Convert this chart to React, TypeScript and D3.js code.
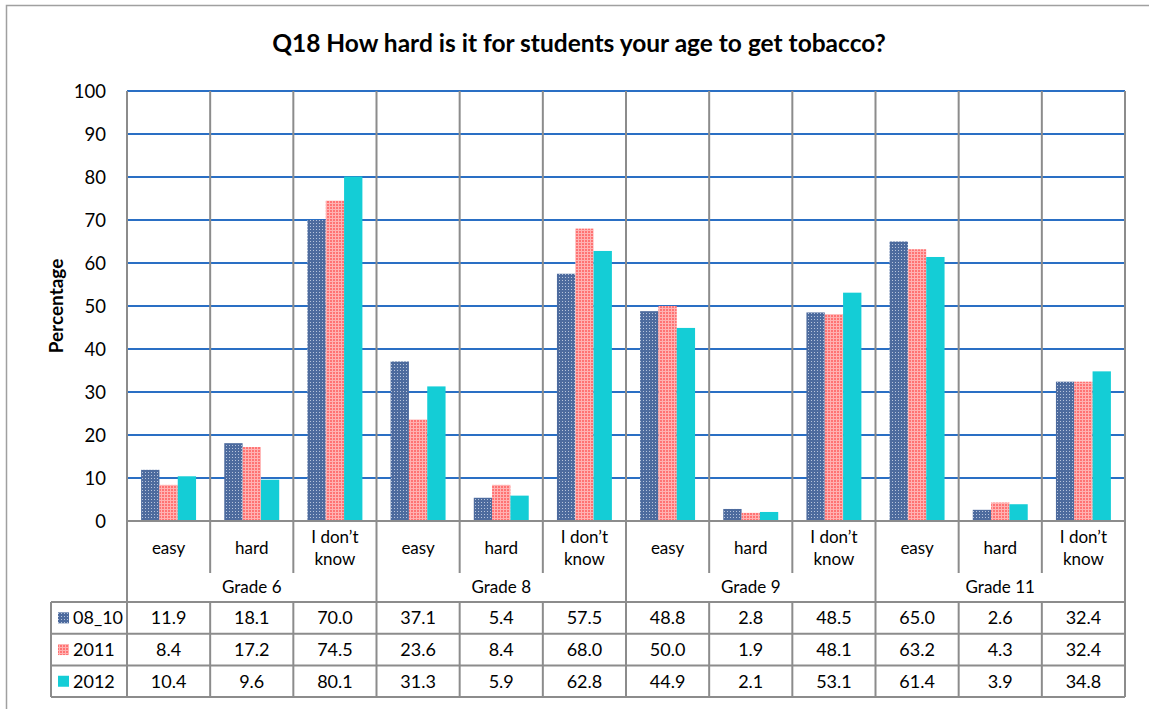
import React from "react";
import * as d3 from "d3";

const groups = ["Grade 6", "Grade 8", "Grade 9", "Grade 11"];
const answers = ["easy", "hard", "I don\u2019t know"];
const seriesNames = ["08_10", "2011", "2012"];
const s0810 = [11.9, 18.1, 70.0, 37.1, 5.4, 57.5, 48.8, 2.8, 48.5, 65.0, 2.6, 32.4];
const s2011 = [8.4, 17.2, 74.5, 23.6, 8.4, 68.0, 50.0, 1.9, 48.1, 63.2, 4.3, 32.4];
const s2012 = [10.4, 9.6, 80.1, 31.3, 5.9, 62.8, 44.9, 2.1, 53.1, 61.4, 3.9, 34.8];
const yTicks = [0, 10, 20, 30, 40, 50, 60, 70, 80, 90, 100];
const title = "Q18 How hard is it for students your age to get tobacco?";

const FONT = "Lato, 'Open Sans', sans-serif";
const GRAY = "#8c8c8c";

export default function App() {
  const W = 1149, H = 709;
  const left = 127, right = 1125, top = 91, bottom = 521;
  const catRowBottom = 573, tableTop = 602, rowH = 31.7;
  const tableLeft = 51;
  const series = [s0810, s2011, s2012];
  const cats = groups.flatMap((g) => answers.map((a) => g + "|" + a));
  const x = d3.scaleBand<string>().domain(cats).range([left, right]).padding(0);
  const xi = d3.scaleBand<number>().domain([0, 1, 2]).range([0, x.bandwidth()]).paddingInner(0).paddingOuter(0.77);
  const y = d3.scaleLinear().domain([0, 100]).range([bottom, top]);
  const fills = ["url(#pBlue)", "url(#pPink)", "#14cdd6"];
  const tableBottom = tableTop + rowH * 3;
  const gw = x.bandwidth() * 3;

  return (
    <svg width={W} height={H} style={{ position: "absolute", left: 0, top: 0, background: "#fff" }} fontFamily={FONT}>
      <defs>
        <pattern id="pBlue" width="3" height="3" patternUnits="userSpaceOnUse">
          <rect width="3" height="3" fill="#4d6b9e" />
          <rect x="1" y="1" width="1" height="1" fill="#b7c4dc" />
        </pattern>
        <pattern id="pPink" width="3" height="3" patternUnits="userSpaceOnUse">
          <rect width="3" height="3" fill="#ffb2b2" />
          <rect x="0" y="0" width="2" height="2" fill="#ff7373" />
        </pattern>
      </defs>
      <rect x={0} y={0} width={W} height={H} fill="#fff" />
      <path d={`M6.5,${H} V5.5 H${W}`} fill="none" stroke="#a0a0a0" strokeWidth={1.5} />
      <text x={579} y={52} textAnchor="middle" fontSize={24.5} fontWeight="bold" fill="#000">{title}</text>
      {yTicks.filter((t) => t > 0).map((t) => (
        <line key={t} x1={left} x2={right} y1={y(t)} y2={y(t)} stroke="#2a6fc4" strokeWidth={2} />
      ))}
      {yTicks.map((t) => (
        <text key={"l" + t} x={106} y={y(t) + 6.5} textAnchor="end" fontSize={18.5} fill="#000">{t}</text>
      ))}
      <text transform={`translate(63,${(top + bottom) / 2}) rotate(-90)`} textAnchor="middle" fontSize={19} fontWeight="bold" fill="#000">Percentage</text>
      {cats.map((c, ci) => series.map((s, si) => (
        <rect key={c + si} x={(x(c) as number) + (xi(si) as number)} y={y(s[ci])} width={xi.bandwidth()} height={bottom - y(s[ci])} fill={fills[si]} />
      )))}
      {cats.map((c, ci) => {
        const xx = x(c) as number;
        if (ci % 3 === 0) return <line key={"v" + ci} x1={xx} x2={xx} y1={top} y2={tableBottom} stroke={GRAY} strokeWidth={2} />;
        return (
          <g key={"v" + ci}>
            <line x1={xx} x2={xx} y1={top} y2={catRowBottom} stroke={GRAY} strokeWidth={2} />
            <line x1={xx} x2={xx} y1={tableTop} y2={tableBottom} stroke={GRAY} strokeWidth={2} />
          </g>
        );
      })}
      <line x1={right} x2={right} y1={top} y2={tableBottom} stroke={GRAY} strokeWidth={2} />
      <line x1={tableLeft} x2={tableLeft} y1={tableTop} y2={tableBottom} stroke={GRAY} strokeWidth={2} />
      <line x1={left} x2={right} y1={bottom} y2={bottom} stroke={GRAY} strokeWidth={2} />
      {[0, 1, 2, 3].map((r) => (
        <line key={"h" + r} x1={tableLeft} x2={right} y1={tableTop + r * rowH} y2={tableTop + r * rowH} stroke={GRAY} strokeWidth={2} />
      ))}
      {cats.map((c, ci) => {
        const cx = (x(c) as number) + x.bandwidth() / 2;
        const a = answers[ci % 3];
        if (a.startsWith("I")) {
          return (
            <text key={"c" + ci} x={cx} textAnchor="middle" fontSize={17} fill="#000">
              <tspan x={cx} y={543}>I don{"\u2019"}t</tspan>
              <tspan x={cx} y={565}>know</tspan>
            </text>
          );
        }
        return <text key={"c" + ci} x={cx} y={554} textAnchor="middle" fontSize={17} fill="#000">{a}</text>;
      })}
      {groups.map((g, gi) => (
        <text key={g} x={left + gw * gi + gw / 2} y={593} textAnchor="middle" fontSize={17} fill="#000">{g}</text>
      ))}
      {series.map((s, si) => (
        <g key={"r" + si}>
          <rect x={58} y={tableTop + si * rowH + rowH / 2 - 5.5} width={11} height={11} fill={fills[si]} />
          <text x={73} y={tableTop + si * rowH + rowH / 2 + 6.5} fontSize={18} fill="#000">{seriesNames[si]}</text>
          {s.map((v, ci) => (
            <text key={ci} x={(x(cats[ci]) as number) + x.bandwidth() / 2} y={tableTop + si * rowH + rowH / 2 + 6.5} textAnchor="middle" fontSize={18} fill="#000">{v.toFixed(1)}</text>
          ))}
        </g>
      ))}
    </svg>
  );
}
